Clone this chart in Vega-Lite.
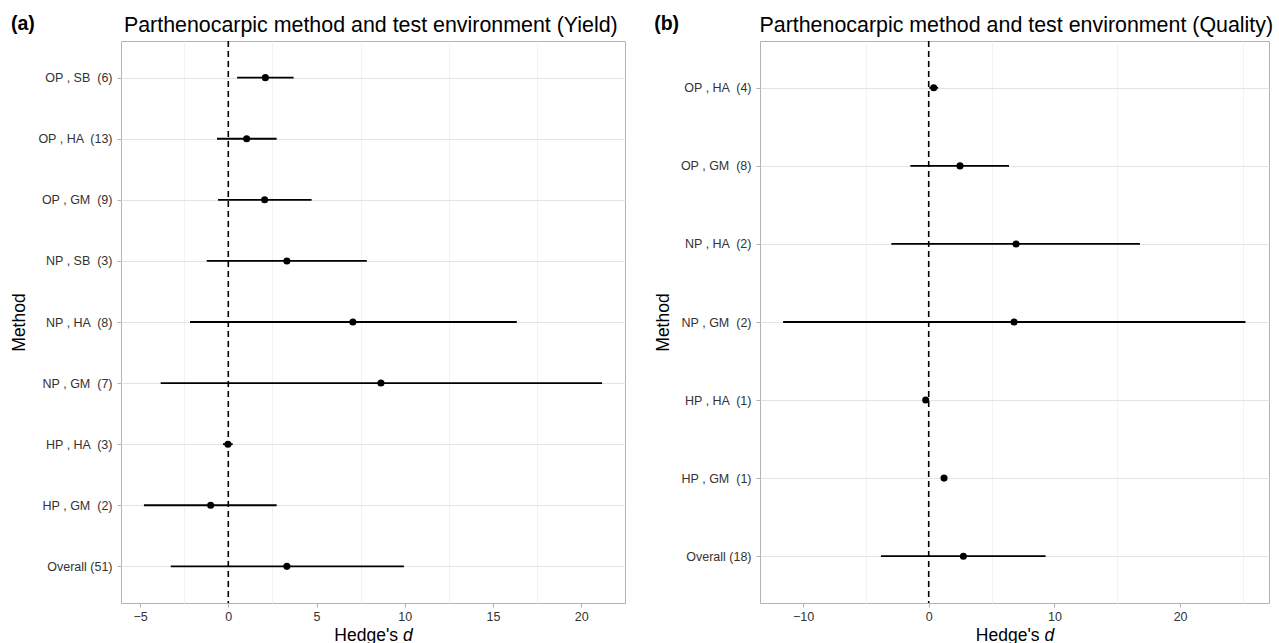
{
  "$schema": "https://vega.github.io/schema/vega-lite/v6.json",
  "padding": {"left": 10, "top": 13, "right": 0, "bottom": 0},
  "background": "white",
  "datasets": {
    "yield": [
      {"method": "OP , SB \u00a0(6)", "d": 2.1, "lo": 0.5, "hi": 3.7},
      {"method": "OP , HA \u00a0(13)", "d": 1.04, "lo": -0.64, "hi": 2.74},
      {"method": "OP , GM \u00a0(9)", "d": 2.06, "lo": -0.58, "hi": 4.72},
      {"method": "NP , SB \u00a0(3)", "d": 3.32, "lo": -1.22, "hi": 7.85},
      {"method": "NP , HA \u00a0(8)", "d": 7.06, "lo": -2.17, "hi": 16.35},
      {"method": "NP , GM \u00a0(7)", "d": 8.65, "lo": -3.83, "hi": 21.18},
      {"method": "HP , HA \u00a0(3)", "d": -0.02, "lo": -0.3, "hi": 0.25},
      {"method": "HP , GM \u00a0(2)", "d": -1.0, "lo": -4.78, "hi": 2.74},
      {"method": "Overall (51)", "d": 3.32, "lo": -3.26, "hi": 9.95}
    ],
    "quality": [
      {"method": "OP , HA \u00a0(4)", "d": 0.4, "lo": 0.05, "hi": 0.75},
      {"method": "OP , GM \u00a0(8)", "d": 2.49, "lo": -1.46, "hi": 6.39},
      {"method": "NP , HA \u00a0(2)", "d": 6.95, "lo": -2.97, "hi": 16.8},
      {"method": "NP , GM \u00a0(2)", "d": 6.79, "lo": -11.58, "hi": 25.2},
      {"method": "HP , HA \u00a0(1)", "d": -0.24, "lo": null, "hi": null},
      {"method": "HP , GM \u00a0(1)", "d": 1.22, "lo": null, "hi": null},
      {"method": "Overall (18)", "d": 2.76, "lo": -3.8, "hi": 9.3}
    ]
  },
  "spacing": 27,
  "hconcat": [
    {
      "title": {"text": "(a)", "subtitle": "\u200b\u00a0\u00a0\u00a0\u00a0\u00a0\u00a0\u00a0\u00a0\u00a0\u00a0\u00a0\u00a0\u00a0\u00a0\u00a0\u00a0\u00a0\u00a0\u00a0Parthenocarpic method and test environment (Yield)"},
      "width": 504,
      "height": 562,
      "data": {"name": "yield"},
      "resolve": {"axis": {"x": "independent"}},
      "layer": [
        {
          "data": {"values": [{}]},
          "mark": {"type": "rule", "color": "black", "strokeDash": [6, 4], "strokeWidth": 1.6},
          "encoding": {
            "x": {"datum": 0, "type": "quantitative",
              "axis": {"orient": "bottom", "values": [-2.5, 2.5, 7.5, 12.5, 17.5], "gridColor": "#f2f2f2", "tickColor": "rgba(0,0,0,0)", "labelColor": "rgba(0,0,0,0)", "title": "d", "titleFontStyle": "italic", "titleAlign": "left", "titleX": 281.4}}
          }
        },
        {
          "transform": [{"filter": "isValid(datum.lo)"}],
          "mark": {"type": "rule", "color": "black", "strokeWidth": 1.8},
          "encoding": {
            "x": {"field": "lo", "type": "quantitative",
              "scale": {"domain": [-6.08, 22.48], "nice": false, "zero": false},
              "axis": {"orient": "bottom", "values": [-5, 0, 5, 10, 15, 20], "title": "Hedge's", "titleAlign": "right", "titleX": 276.5}},
            "x2": {"field": "hi"},
            "y": {"field": "method", "type": "nominal",
              "scale": {"type": "point", "padding": 0.6, "domain": ["OP , SB \u00a0(6)", "OP , HA \u00a0(13)", "OP , GM \u00a0(9)", "NP , SB \u00a0(3)", "NP , HA \u00a0(8)", "NP , GM \u00a0(7)", "HP , HA \u00a0(3)", "HP , GM \u00a0(2)", "Overall (51)"]},
              "axis": {"title": "Method"}}
          }
        },
        {
          "mark": {"type": "point", "filled": true, "color": "black", "size": 50, "opacity": 1},
          "encoding": {
            "x": {"field": "d", "type": "quantitative", "axis": null},
            "y": {"field": "method", "type": "nominal", "axis": {"title": "Method"}}
          }
        }
      ]
    },
    {
      "title": {"text": "(b)", "subtitle": "\u200b\u00a0\u00a0\u00a0\u00a0\u00a0\u00a0\u00a0\u00a0\u00a0\u00a0\u00a0\u00a0\u00a0\u00a0\u00a0\u00a0\u00a0\u2009Parthenocarpic method and test environment (Quality)"},
      "width": 509,
      "height": 562,
      "data": {"name": "quality"},
      "resolve": {"axis": {"x": "independent"}},
      "layer": [
        {
          "data": {"values": [{}]},
          "mark": {"type": "rule", "color": "black", "strokeDash": [6, 4], "strokeWidth": 1.6},
          "encoding": {
            "x": {"datum": 0, "type": "quantitative",
              "axis": {"orient": "bottom", "values": [-5, 5, 15, 25], "gridColor": "#f2f2f2", "tickColor": "rgba(0,0,0,0)", "labelColor": "rgba(0,0,0,0)", "title": "d", "titleFontStyle": "italic", "titleAlign": "left", "titleX": 284}}
          }
        },
        {
          "transform": [{"filter": "isValid(datum.lo)"}],
          "mark": {"type": "rule", "color": "black", "strokeWidth": 1.8},
          "encoding": {
            "x": {"field": "lo", "type": "quantitative",
              "scale": {"domain": [-13.42, 27.07], "nice": false, "zero": false},
              "axis": {"orient": "bottom", "values": [-10, 0, 10, 20], "title": "Hedge's", "titleAlign": "right", "titleX": 279}},
            "x2": {"field": "hi"},
            "y": {"field": "method", "type": "nominal",
              "scale": {"type": "point", "padding": 0.6, "domain": ["OP , HA \u00a0(4)", "OP , GM \u00a0(8)", "NP , HA \u00a0(2)", "NP , GM \u00a0(2)", "HP , HA \u00a0(1)", "HP , GM \u00a0(1)", "Overall (18)"]},
              "axis": {"title": "Method"}}
          }
        },
        {
          "mark": {"type": "point", "filled": true, "color": "black", "size": 50, "opacity": 1},
          "encoding": {
            "x": {"field": "d", "type": "quantitative", "axis": null},
            "y": {"field": "method", "type": "nominal", "axis": {"title": "Method"}}
          }
        }
      ]
    }
  ],
  "config": {
    "font": "Liberation Sans",
    "view": {"stroke": "#b3b3b3", "strokeWidth": 1},
    "title": {"font": "Liberation Sans", "fontWeight": "bold", "fontSize": 19.5, "color": "#000000", "anchor": "start", "frame": "bounds", "offset": 3, "subtitleFont": "Liberation Sans", "subtitleFontSize": 21.4, "subtitleFontWeight": "normal", "subtitleColor": "#000000", "subtitlePadding": -20},
    "axis": {
      "labelFont": "Liberation Sans",
      "titleFont": "Liberation Sans",
      "labelColor": "#333333",
      "titleColor": "#000000",
      "titleFontWeight": "normal",
      "titleFontSize": 17.5,
      "labelFontSize": 12.5,
      "tickColor": "#b3b3b3",
      "tickSize": 4,
      "domain": false,
      "grid": true,
      "gridColor": "#e3e3e3",
      "gridWidth": 1
    },
    "axisX": {"labelPadding": 3, "titlePadding": 4, "labelFontSize": 12.5},
    "axisY": {"labelPadding": 5, "titlePadding": 8}
  }
}
